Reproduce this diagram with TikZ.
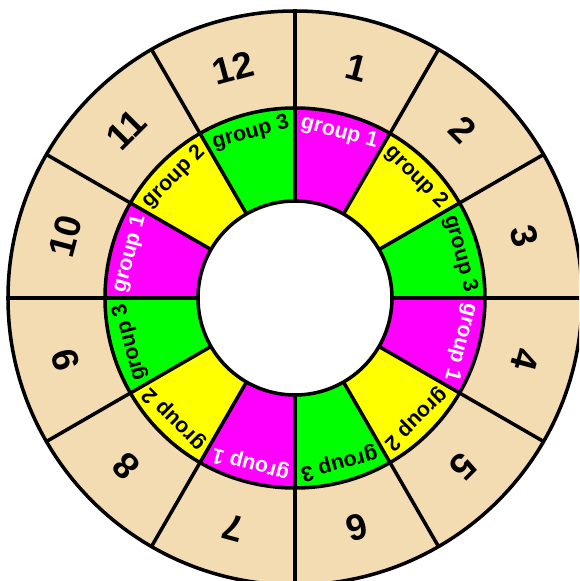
\documentclass[tikz,border=0pt]{standalone}
\usepackage{fontspec}
\setmainfont{Liberation Sans}
\definecolor{wheatbg}{RGB}{243,220,178}
\definecolor{grpone}{RGB}{255,0,255}
\definecolor{grptwo}{RGB}{255,255,0}
\definecolor{grpthree}{RGB}{0,255,0}

\begin{document}
\begin{tikzpicture}[x=0.02cm,y=0.02cm,line width=2pt,line cap=round,
  numlabel/.style={font=\bfseries\fontsize{21}{21}\selectfont,inner sep=0pt},
  grplabel/.style={font=\bfseries\fontsize{12.2}{12}\selectfont,inner sep=0pt}]
\useasboundingbox (-295,-283) rectangle (284,298);
\clip (-295,-283) rectangle (284,298);
% outer ring
\fill[wheatbg] (0,0) circle (287);
% group ring
\foreach \k/\fc/\tc/\g in {1/grpone/white/1,2/grptwo/black/2,3/grpthree/black/3,
  4/grpone/white/1,5/grptwo/black/2,6/grpthree/black/3,
  7/grpone/white/1,8/grptwo/black/2,9/grpthree/black/3,
  10/grpone/white/1,11/grptwo/black/2,12/grpthree/black/3}{
  \pgfmathsetmacro{\a}{105-30*\k}
  \fill[\fc] (\a-15:190) arc[start angle=\a-15,end angle=\a+15,radius=190]
    -- (\a+15:97) arc[start angle=\a+15,end angle=\a-15,radius=97] -- cycle;
  \node[grplabel,text=\tc,rotate=\a-90] (grp\k) at (\a:171) {group \g};
  \node[numlabel,rotate=\a-90] (num\k) at (\a:238) {\k};
}
% dividers
\foreach \t in {0,30,...,330}
  \draw (\t:97) -- (\t:287);
\draw (0,0) circle (287);
\draw (0,0) circle (190);
\filldraw[fill=white] (0,0) circle (97);
\end{tikzpicture}
\end{document}
